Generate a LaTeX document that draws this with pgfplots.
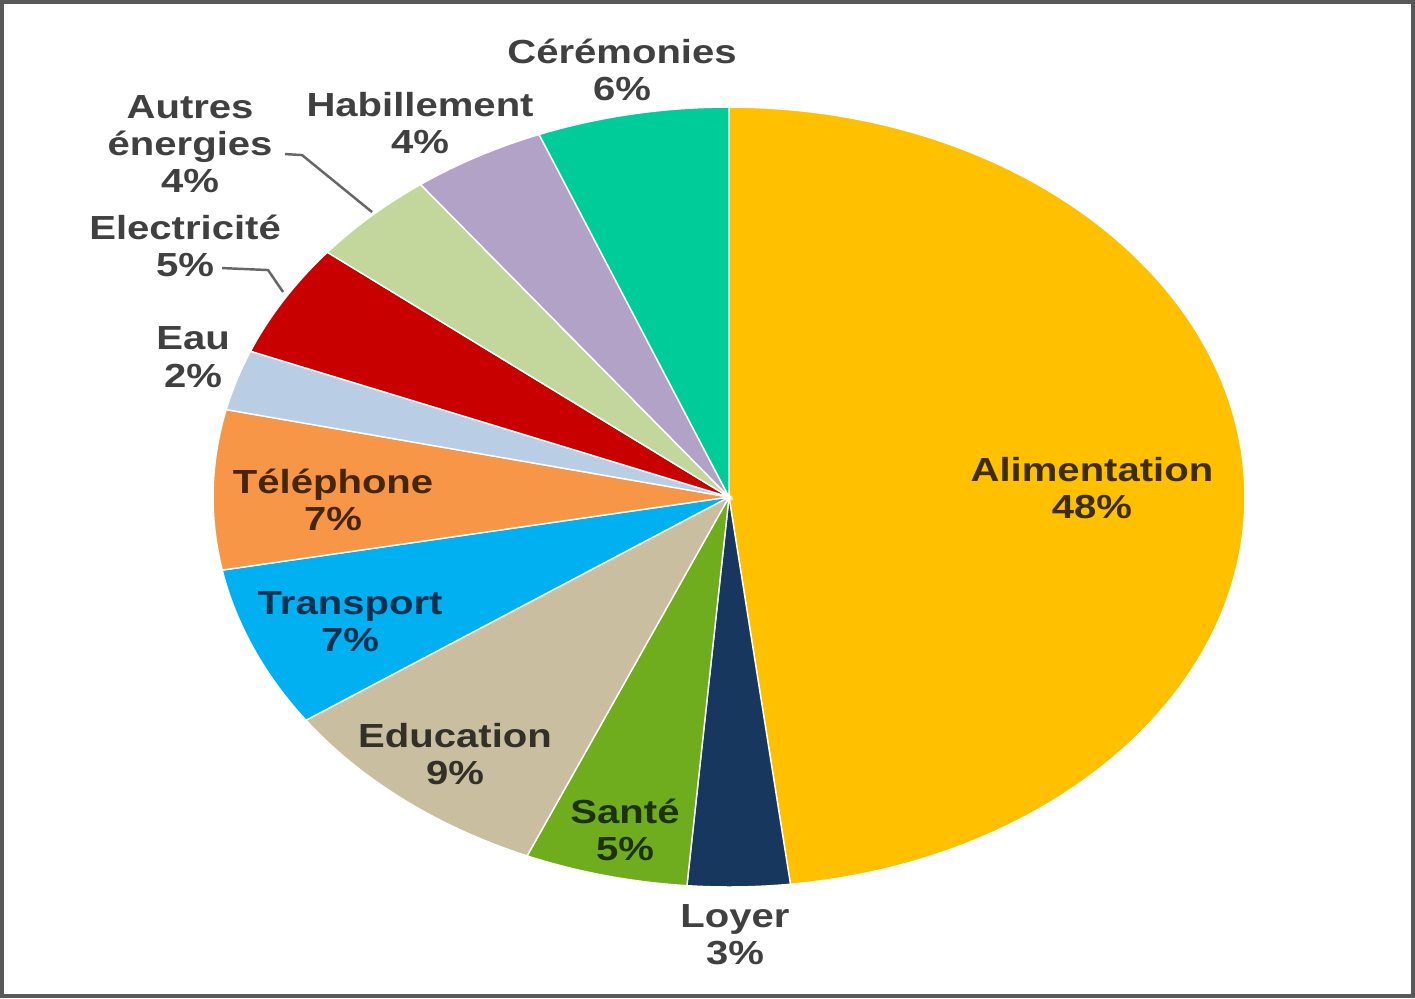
\documentclass[border=0pt]{standalone}
\usepackage{pgfplots}
\usepackage{pgfplotstable}
\pgfplotsset{compat=1.18}
\usepackage{fontspec}
\setmainfont{Liberation Sans}
\definecolor{cAli}{HTML}{FFC000}
\definecolor{cLoy}{HTML}{17375E}
\definecolor{cSan}{HTML}{6FAD1F}
\definecolor{cEdu}{HTML}{C9BFA0}
\definecolor{cTra}{HTML}{00B0F0}
\definecolor{cTel}{HTML}{F79646}
\definecolor{cEau}{HTML}{B9CDE5}
\definecolor{cEle}{HTML}{C80000}
\definecolor{cAut}{HTML}{C3D69B}
\definecolor{cHab}{HTML}{B3A2C7}
\definecolor{cCer}{HTML}{00CC99}
\definecolor{tGray}{HTML}{404040}
\tikzset{lab/.style={font=\bfseries\fontsize{9.5}{10.6}\selectfont, align=center, xscale=1.2, inner sep=0pt}}
% share of each expense (percent), clockwise from 12 o'clock
\pgfplotstableread[col sep=comma]{
name,value,col
Alimentation,48.1,cAli
Loyer,3.2,cLoy
Sante,5.1,cSan
Education,8.9,cEdu
Transport,6.7,cTra
Telephone,6.6,cTel
Eau,2.5,cEau
Electricite,4.7,cEle
Autres,4.0,cAut
Habillement,4.2,cHab
Ceremonies,6.0,cCer
}\piedata
\begin{document}
\begin{tikzpicture}
\begin{axis}[
  scale only axis, width=141.5mm, height=99.8mm,
  xmin=0, xmax=1415, ymin=0, ymax=998,
  axis lines=none, clip=false,
]
\draw[gray!70!black, line width=1.2pt] (axis cs:2,2) rectangle (axis cs:1413,996);
\pgfplotstablegetrowsof{\piedata}
\pgfmathtruncatemacro\N{\pgfplotsretval-1}
\def\cum{0}
\pgfplotsforeachungrouped \i in {0,...,\N}{%
  \pgfplotstablegetelem{\i}{value}\of\piedata \let\v\pgfplotsretval
  \pgfplotstablegetelem{\i}{col}\of\piedata \let\c\pgfplotsretval
  \pgfmathsetmacro\a{90-3.6*\cum}%
  \pgfmathsetmacro\b{90-3.6*(\cum+\v)}%
  \pgfmathsetmacro\cum{\cum+\v}%
  \edef\temp{\noexpand\fill[\c, draw=white, line width=0.4pt] (axis cs:729,501) -- ++({cos(\a)*51.6mm},{sin(\a)*39mm}) arc[start angle=\a, end angle=\b, x radius=51.6mm, y radius=39mm] -- cycle;}%
  \temp
}
% leader lines
\draw[gray!80!black, line width=0.7pt] (axis cs:285,844) -- (axis cs:302,843) -- (axis cs:372,786);
\draw[gray!80!black, line width=0.7pt] (axis cs:222,730) -- (axis cs:268,728) -- (axis cs:283,706);
% labels
\node[lab, text=tGray] at (axis cs:622,928) {Cérémonies\\6\%};
\node[lab, text=tGray] at (axis cs:420,875) {Habillement\\4\%};
\node[lab, text=tGray] at (axis cs:190,854) {Autres\\énergies\\4\%};
\node[lab, text=tGray] at (axis cs:185,752) {Electricité\\5\%};
\node[lab, text=tGray] at (axis cs:193,641) {Eau\\2\%};
\node[lab, text={rgb,255:red,70;green,38;blue,10}] at (axis cs:333,498) {Téléphone\\7\%};
\node[lab, text={rgb,255:red,10;green,50;blue,80}] at (axis cs:350,376) {Transport\\7\%};
\node[lab, text={rgb,255:red,50;green,48;blue,40}] at (axis cs:455,244) {Education\\9\%};
\node[lab, text={rgb,255:red,30;green,50;blue,10}] at (axis cs:625,168) {Santé\\5\%};
\node[lab, text=tGray] at (axis cs:735,63) {Loyer\\3\%};
\node[lab, text={rgb,255:red,60;green,45;blue,5}] at (axis cs:1092,510) {Alimentation\\48\%};
\end{axis}
\end{tikzpicture}
\end{document}
